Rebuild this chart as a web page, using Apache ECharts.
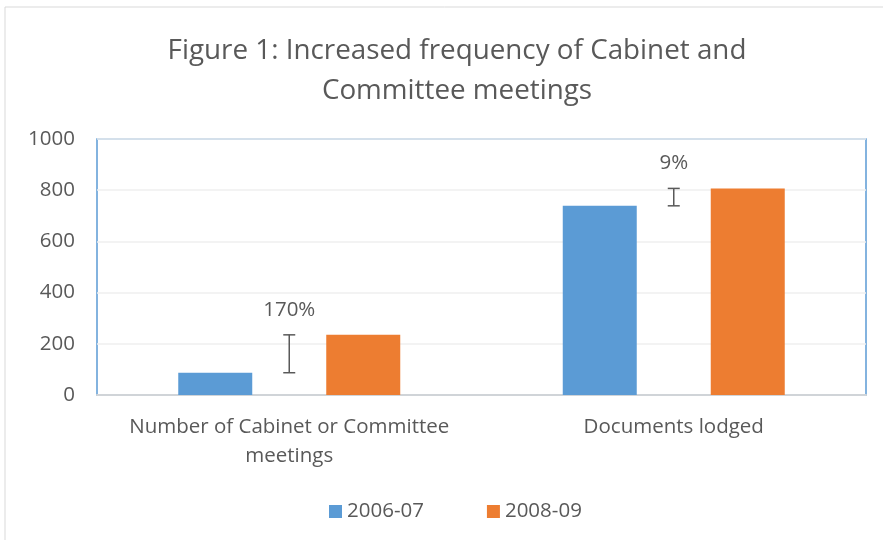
<!DOCTYPE html>
<html><head><meta charset="utf-8">
<script src="https://cdn.jsdelivr.net/npm/echarts@6/dist/echarts.min.js"></script>
<style>html,body{margin:0;padding:0;background:#fff}#c{width:883px;height:540px}</style>
</head><body><div id="c"></div>
<script>
const categories = ['Number of Cabinet or Committee\nmeetings', 'Documents lodged'];
const series2006 = [87, 739];
const series2008 = [235, 807];
const changeLabels = ['170%', '9%'];
const yTicks = [0, 200, 400, 600, 800, 1000];

const chart = echarts.init(document.getElementById('c'));
const font = 'Open Sans';
const grey = '#595959';
chart.setOption({
  animation: false,
  graphic: [{ type: 'rect', shape: { x: 5, y: 7, width: 900, height: 560 }, style: { fill: 'none', stroke: '#d9d9d9', lineWidth: 1 }, z: -1 }],
  title: {
    text: 'Figure 1: Increased frequency of Cabinet and\nCommittee meetings',
    left: 452, top: 26, textAlign: 'center',
    textStyle: { fontFamily: font, fontSize: 27.8, fontWeight: 'normal', color: grey, lineHeight: 40 }
  },
  legend: {
    top: 496, left: 324, itemWidth: 13, itemHeight: 13, itemGap: 63,
    icon: 'rect',
    textStyle: { fontFamily: font, fontSize: 20.5, color: grey },
    data: ['2006-07', '2008-09']
  },
  grid: { left: 97, right: 17, top: 139, bottom: 145, show: true, borderColor: '#5B9BD5', borderWidth: 1.5, containLabel: false },
  xAxis: {
    type: 'category', data: categories,
    axisLine: { lineStyle: { color: '#d0d4d8', width: 2 } },
    axisTick: { show: false },
    axisLabel: { interval: 0, fontFamily: font, fontSize: 20.5, color: grey, margin: 18, lineHeight: 29 }
  },
  yAxis: {
    type: 'value', min: yTicks[0], max: yTicks[yTicks.length - 1], interval: 200,
    axisLine: { show: false }, axisTick: { show: false },
    axisLabel: { fontFamily: font, fontSize: 20.5, color: grey, margin: 22, formatter: v => String(v) },
    splitLine: { lineStyle: { color: '#efefef', width: 1.5 } }
  },
  series: [
    { name: '2006-07', type: 'bar', data: series2006, barWidth: 74, barGap: '100%', itemStyle: { color: '#5B9BD5' } },
    { name: '2008-09', type: 'bar', data: series2008, barWidth: 74, itemStyle: { color: '#ED7D31' } },
    {
      name: 'change', type: 'custom', data: categories.map((c, i) => [i, series2006[i], series2008[i]]),
      renderItem: function (params, api) {
        const i = api.value(0);
        const p1 = api.coord([i, api.value(1)]);
        const p2 = api.coord([i, api.value(2)]);
        const x = p1[0];
        const yt = Math.min(p1[1], p2[1]), yb = Math.max(p1[1], p2[1]);
        const s = { stroke: grey, lineWidth: 1.5 };
        return { type: 'group', children: [
          { type: 'line', shape: { x1: x, y1: yt, x2: x, y2: yb }, style: s },
          { type: 'line', shape: { x1: x - 6, y1: yt, x2: x + 6, y2: yt }, style: s },
          { type: 'line', shape: { x1: x - 6, y1: yb, x2: x + 6, y2: yb }, style: s },
          { type: 'text', style: { text: changeLabels[params.dataIndex], x: x, y: yt - 25, align: 'center', verticalAlign: 'middle', fontFamily: font, fontSize: 20.5, fill: grey } }
        ] };
      },
      z: 5
    }
  ]
});
</script></body></html>
